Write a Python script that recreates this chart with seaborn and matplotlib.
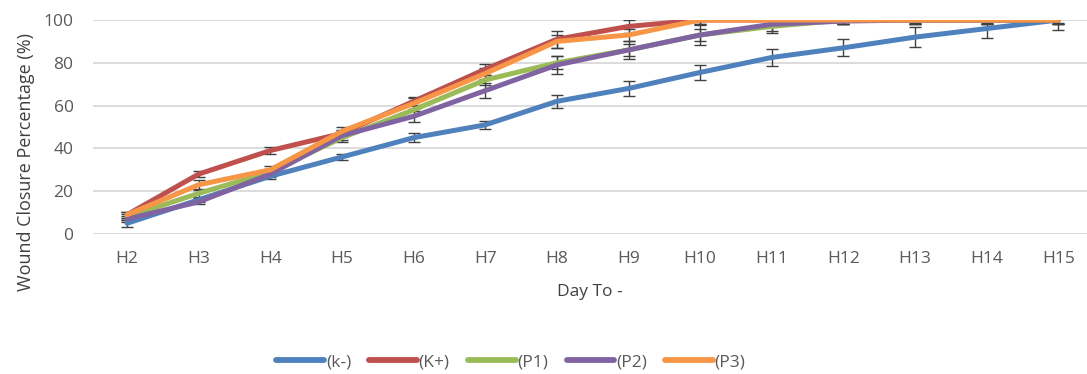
import pandas as pd
import matplotlib.pyplot as plt
import seaborn as sns

days = ["H2", "H3", "H4", "H5", "H6", "H7", "H8", "H9", "H10", "H11", "H12", "H13", "H14", "H15"]
groups = ["(k-)", "(K+)", "(P1)", "(P2)", "(P3)"]

k_minus = [5, 16, 27, 36, 45, 51, 62, 68, 75.5, 82.5, 87, 92, 96, 100]
k_plus = [9, 28, 39, 47, 62, 77, 91, 97, 100, 100, 100, 100, 100, 100]
p1 = [8, 19, 29, 45, 58, 72, 80, 86, 93, 97, 100, 100, 100, 100]
p2 = [7, 15, 28, 46, 55, 67, 79, 86, 93, 98, 99.5, 100, 100, 100]
p3 = [9, 23, 30, 48, 61, 75, 90, 93, 100, 100, 100, 100, 100, 100]

err_k_minus = [1.5, 1, 1.5, 1.5, 2, 2, 3, 3.5, 3.5, 4, 4, 4.5, 4.5, 4.5]
err_k_plus = [1.5, 1.5, 1.5, 1.5, 2, 2.5, 4, 3, 2, 2, 2, 2, 2, 2]
err_p1 = [1.5, 1.5, 1.5, 2, 2.5, 2.5, 3, 3, 3, 3, 2, 2, 2, 2]
err_p2 = [1.5, 1, 1.5, 2, 2.5, 3.5, 4, 4, 4.5, 3, 1.5, 1.5, 1.5, 1.5]
err_p3 = [1.5, 2, 2, 2, 2.5, 2.5, 3, 3, 2, 2, 2, 2, 2, 2]

values = [k_minus, k_plus, p1, p2, p3]
errors = [err_k_minus, err_k_plus, err_p1, err_p2, err_p3]
colors = ["#4F81BD", "#C0504D", "#9BBB59", "#8064A2", "#F79646"]

rows = []
for g, vals, errs in zip(groups, values, errors):
    for i, (d, v, e) in enumerate(zip(days, vals, errs)):
        rows.append({"Day": d, "pos": i, "Group": g, "Value": v, "Err": e})
df = pd.DataFrame(rows)

sns.set_theme(style="white")
plt.rcParams["font.family"] = ["Open Sans", "DejaVu Sans"]

fig = plt.figure(figsize=(10.87, 3.74), dpi=100)
ax = fig.add_axes([93 / 1087, 1 - 234 / 374, (1087 - 93) / 1087, 214 / 374])

for g in groups:
    sub = df[df["Group"] == g]
    ax.errorbar(sub["pos"], sub["Value"], yerr=sub["Err"], fmt="none",
                ecolor="#404040", elinewidth=1, capsize=4.3, capthick=1, zorder=3)

sns.lineplot(data=df, x="pos", y="Value", hue="Group", palette=colors,
             linewidth=3.6, ax=ax, zorder=4, legend=True)
for ln in ax.get_lines():
    ln.set_solid_capstyle("round")
    ln.set_solid_joinstyle("round")

ax.set_xlim(-0.475, len(days) - 0.6)
ax.set_ylim(0, 100)
ax.set_xticks(range(len(days)))
ax.set_xticklabels(days)
ax.set_yticks([0, 20, 40, 60, 80, 100])
ax.yaxis.grid(True, color="#D9D9D9", linewidth=1.3)
ax.set_axisbelow(True)
for s in ax.spines.values():
    s.set_visible(False)
ax.tick_params(axis="both", colors="#595959", labelsize=12.5, length=0)
ax.tick_params(axis="x", pad=12)
ax.tick_params(axis="y", pad=14)
ax.set_xlabel("Day To -", color="#404040", fontsize=12.5)
ax.xaxis.set_label_coords(0.5, -0.235)
ax.set_ylabel("Wound Closure Percentage (%)", color="#404040", fontsize=13)
ax.yaxis.set_label_coords(-0.058, 0.338)

handles, labels = ax.get_legend_handles_labels()
ax.get_legend().remove()
leg = fig.legend(handles, labels, loc="center", bbox_to_anchor=(0.470, 0.032),
                 ncol=5, frameon=False, fontsize=12.5, handlelength=2.75,
                 handletextpad=0.1, columnspacing=1.05, labelcolor="#595959")
for h in leg.get_lines():
    h.set_linewidth(4.2)
    h.set_solid_capstyle("round")

fig.savefig("out.png", dpi=100)
